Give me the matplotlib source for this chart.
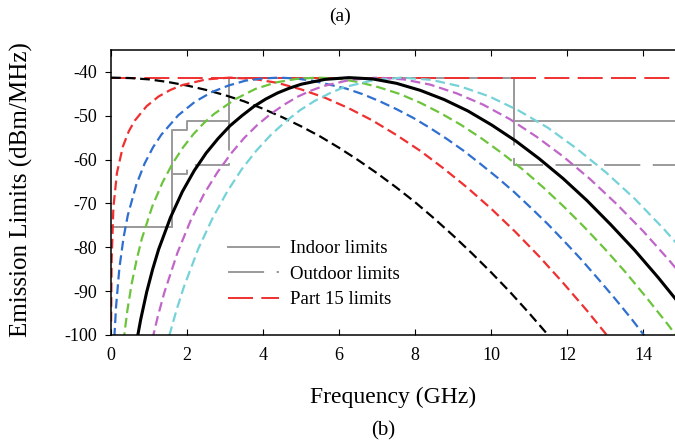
import matplotlib
matplotlib.use('Agg')
import matplotlib.pyplot as plt

plt.rcParams['font.family'] = ['Liberation Serif', 'DejaVu Serif']
plt.rcParams['axes.unicode_minus'] = False
plt.rcParams['lines.scale_dashes'] = False

# FCC emission masks (GHz, dBm/MHz), step edges
limit_edges = [0, 1.61, 1.99, 3.1, 10.6, 15]
indoor_levels = [-75.3, -53.3, -51.3, -41.3, -51.3, -51.3]
outdoor_levels = [-75.3, -63.3, -61.3, -41.3, -61.3, -61.3]
part15_freq = [0, 15]
part15_levels = [-41.3, -41.3]

# pulse spectra
f_black_dash = [0, 0.5, 1, 1.5, 2, 2.5, 3, 3.5, 4, 4.5, 5, 5.5, 6, 6.5, 7, 7.5,
                8, 8.5, 9, 9.5, 10, 10.5, 11, 11.5, 12]
p_black_dash = [-41.3, -41.4, -41.7, -42.3, -43.1, -44.1, -45.3, -46.7, -48.4, -50.3,
                -52.4, -54.7, -57.3, -60.1, -63.1, -66.3, -69.7, -73.4, -77.3, -81.4,
                -85.7, -90.2, -95.0, -100.0, -105.2]

f_red = [0.003, 0.016, 0.063, 0.157, 0.313, 0.47, 0.626, 0.939, 1.252, 1.565, 1.878,
         2.504, 3.13, 3.756, 4.382, 5.008, 5.634, 6.26, 6.886, 7.512, 8.138, 8.764,
         9.39, 10.016, 10.642, 11.268, 11.894, 12.52, 13.146]
p_red = [-96.9, -83.0, -70.9, -63.0, -57.0, -53.5, -51.1, -47.8, -45.6, -44.1, -43.0,
         -41.7, -41.3, -41.6, -42.5, -44.0, -45.9, -48.3, -51.1, -54.4, -58.0, -62.1,
         -66.5, -71.3, -76.5, -82.1, -88.1, -94.4, -101.1]

f_blue = [0.088, 0.133, 0.221, 0.332, 0.442, 0.663, 0.884, 1.105, 1.326, 1.768, 2.21,
          2.652, 3.094, 3.536, 3.978, 4.42, 4.862, 5.304, 6.188, 6.63, 7.072, 7.514,
          7.956, 8.398, 8.84, 9.282, 9.724, 10.166, 10.608, 11.05, 11.492, 11.934,
          12.376, 12.818, 13.26, 13.702, 14.144]
p_blue = [-100.6, -93.5, -84.7, -77.7, -72.7, -65.8, -60.9, -57.2, -54.3, -49.9, -46.8,
          -44.6, -43.1, -42.0, -41.5, -41.3, -41.5, -42.0, -43.8, -45.1, -46.7, -48.5,
          -50.5, -52.8, -55.3, -58.0, -61.0, -64.1, -67.4, -71.0, -74.7, -78.7,
          -82.8, -87.2, -91.7, -96.4, -101.4]

f_green = [0.325, 0.434, 0.542, 0.678, 0.813, 1.084, 1.355, 1.626, 1.897, 2.168, 2.439,
           2.71, 3.252, 3.794, 4.336, 4.878, 5.42, 5.962, 6.504, 7.046, 7.588, 8.13,
           8.672, 9.214, 9.756, 10.298, 10.84, 11.382, 11.924, 12.466, 13.008, 13.55,
           14.092, 14.634, 15.176]
p_green = [-101.6, -94.2, -88.4, -82.7, -78.0, -70.7, -65.2, -60.8, -57.2, -54.2, -51.7,
           -49.6, -46.3, -43.9, -42.4, -41.6, -41.3, -41.5, -42.3, -43.5, -45.0, -47.0,
           -49.4, -52.1, -55.2, -58.6, -62.3, -66.4, -70.8, -75.5, -80.5, -85.8,
           -91.5, -97.4, -103.6]

f_black = [0.689, 0.783, 0.939, 1.096, 1.252, 1.565, 1.878, 2.191, 2.504, 2.817, 3.13,
           3.443, 3.756, 4.069, 4.382, 4.695, 5.008, 5.634, 6.26, 6.886, 7.512, 8.138,
           8.764, 9.39, 10.016, 10.642, 11.268, 11.894, 12.52, 13.146, 13.772, 14.398,
           15.024]
p_black = [-100.8, -96.4, -90.2, -85.0, -80.5, -73.2, -67.3, -62.5, -58.5, -55.2, -52.3,
           -50.0, -47.9, -46.2, -44.8, -43.7, -42.8, -41.7, -41.3, -41.6, -42.6, -44.2,
           -46.3, -48.9, -52.1, -55.7, -59.8, -64.3, -69.3, -74.8, -80.6, -86.9,
           -93.6]

f_magenta = [1.085, 1.225, 1.4, 1.75, 2.1, 2.45, 2.8, 3.15, 3.5, 3.85, 4.2, 4.55, 4.9,
             5.25, 5.6, 6.3, 7.0, 7.7, 8.4, 9.1, 9.8, 10.5, 11.2, 11.9, 12.6, 13.3,
             14.0, 14.7, 15.4]
p_magenta = [-101.1, -96.0, -90.4, -81.2, -73.8, -67.8, -62.9, -58.7, -55.1, -52.1,
             -49.6, -47.5, -45.7, -44.3, -43.2, -41.8, -41.3, -41.7, -42.9, -44.9,
             -47.5, -50.8, -54.8, -59.3, -64.4, -70.1, -76.3, -83.1, -90.4]

f_cyan = [1.532, 1.724, 1.915, 2.298, 2.681, 3.064, 3.447, 3.83, 4.213, 4.596, 4.979,
          5.362, 5.745, 6.128, 6.894, 7.66, 8.426, 9.192, 9.958, 10.724, 11.49, 12.256,
          13.022, 13.788, 14.554, 15.32]
p_cyan = [-100.2, -94.3, -89.1, -80.3, -73.2, -67.2, -62.1, -57.9, -54.3, -51.3, -48.7,
          -46.6, -44.9, -43.5, -41.9, -41.3, -41.8, -43.3, -45.6, -48.8, -52.7, -57.5,
          -62.9, -69.0, -75.9, -83.4]

gray = '#9a9a9a'
short_dash = (0, (7, 3.5))

fig = plt.figure(figsize=(6.75, 4.45), dpi=100)
ax = fig.add_axes([111 / 675, 1 - 335 / 445, 1 - 111 / 675, 285 / 445])

ax.plot(limit_edges, indoor_levels, drawstyle='steps-post', color=gray, lw=1.4,
        label='Indoor limits')
ax.plot(limit_edges, outdoor_levels, drawstyle='steps-post', color=gray, lw=1.4,
        ls=(0, (26, 9)), label='Outdoor limits')
ax.plot(part15_freq, part15_levels, color='#f03030', lw=1.4, ls=(0, (18, 6)),
        label='Part 15 limits')

spectra = [
    (f_black_dash, p_black_dash, 'black'),
    (f_red, p_red, '#f03030'),
    (f_blue, p_blue, '#2f6fd0'),
    (f_green, p_green, '#6cc43c'),
    (f_magenta, p_magenta, '#c066c8'),
    (f_cyan, p_cyan, '#74d2d8'),
]
for f, p, c in spectra:
    ax.plot(f, p, color=c, lw=1.6, ls=short_dash)
ax.plot(f_black, p_black, color='black', lw=2.2)

ax.set_xlim(0, 14.84)
ax.set_ylim(-100, -35)
ax.set_xticks(range(0, 15, 2))
ax.set_yticks(range(-100, -39, 10))
ax.tick_params(axis='x', direction='in', top=True, length=4, pad=9, labelsize=13)
ax.tick_params(axis='y', direction='out', length=4, pad=6, labelsize=13)
ax.spines['right'].set_visible(False)
for s in ['left', 'bottom', 'top']:
    ax.spines[s].set_linewidth(1.1)

ax.legend(loc='upper left', bbox_to_anchor=(228 / 675, 1 - 240 / 445),
          bbox_transform=fig.transFigure, frameon=False, fontsize=13.5,
          handlelength=2.7, handletextpad=0.6, labelspacing=0.45,
          borderpad=0, borderaxespad=0)

fig.text(340 / 675, 1 - 16 / 445, '(a)', ha='center', va='center', fontsize=14)
fig.text(393 / 675, 1 - 397 / 445, 'Frequency (GHz)', ha='center', va='center',
         fontsize=17)
fig.text(383 / 675, 1 - 431 / 445, '(b)', ha='center', va='center', fontsize=15)
fig.text(21 / 675, 1 - 190 / 445, 'Emission Limits (dBm/MHz)', rotation=90,
         ha='center', va='center', fontsize=18)

fig.savefig('out.png', dpi=100)
